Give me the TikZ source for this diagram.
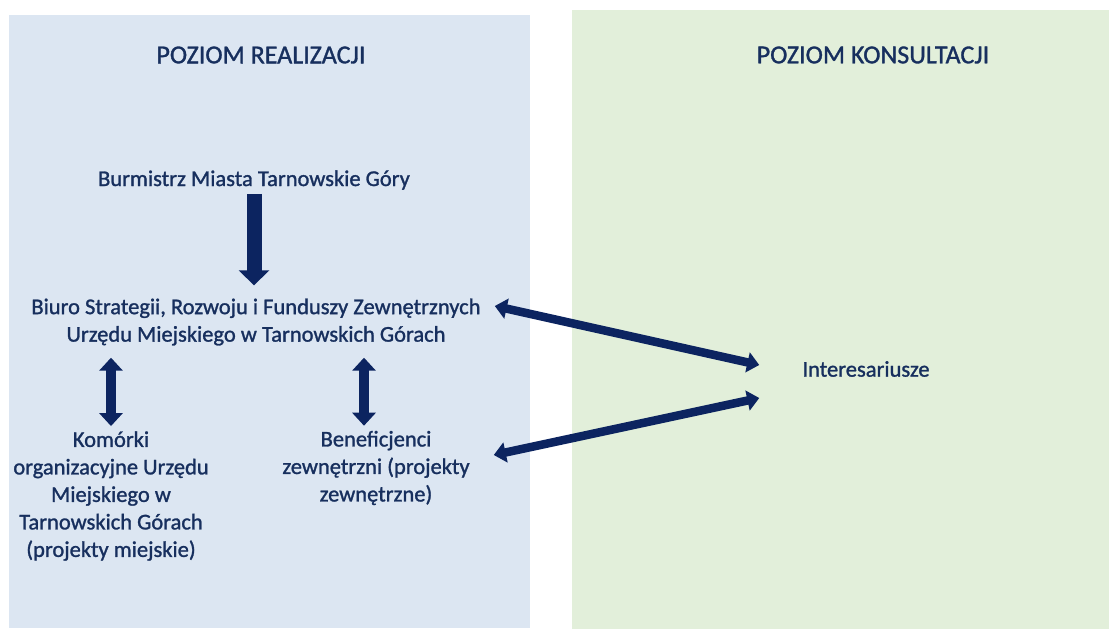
\documentclass[tikz,border=0pt]{standalone}
\usepackage{fontspec}
\setmainfont{Carlito}
\newfontface\heavyfont{Carlito}[FakeBold=1.2]
\usetikzlibrary{arrows.meta,calc}
\definecolor{panelblue}{HTML}{DCE6F2}
\definecolor{panelgreen}{HTML}{E2EFDA}
\definecolor{navy}{HTML}{172F5E}
\definecolor{arrowc}{HTML}{0C2460}
\begin{document}
\begin{tikzpicture}[x=1pt,y=-1pt,
  title/.style={font=\heavyfont\fontsize{26}{31}\selectfont, text=navy, inner sep=0pt},
  lbl/.style={font=\heavyfont\fontsize{22.5}{27.5}\selectfont, text=navy, align=center, inner sep=0pt},
  bigarrow/.style={draw=arrowc, line width=15pt, -{Triangle[width=30pt,length=15pt]}},
  vdbl/.style={draw=arrowc, line width=10pt, {Triangle[width=23pt,length=13pt]}-{Triangle[width=23pt,length=13pt]}},
  ddbl/.style={draw=arrowc, line width=8.5pt, {Triangle[width=20pt,length=12pt]}-{Triangle[width=20pt,length=12pt]}},
  ]
\useasboundingbox (0,0) rectangle (1109,629);
\fill[white] (0,0) rectangle (1109,629);
\fill[panelblue] (9,15) rectangle (530,628);
\fill[panelgreen] (572,10) rectangle (1109,629);

\node[title] (t1) at (261,55) {POZIOM REALIZACJI};
\node[title] (t2) at (873,55) {POZIOM KONSULTACJI};

\node[lbl] (burm) at (254,180) {Burmistrz Miasta Tarnowskie Góry};
\node[lbl] (biuro) at (256,322) {Biuro Strategii, Rozwoju i Funduszy Zewnętrznych\\Urzędu Miejskiego w Tarnowskich Górach};
\node[lbl] (kom) at (111,496) {Komórki\\organizacyjne Urzędu\\Miejskiego w\\Tarnowskich Górach\\(projekty miejskie)};
\node[lbl] (ben) at (376,468) {Beneficjenci\\zewnętrzni (projekty\\zewnętrzne)};
\node[lbl] (inter) at (866,369) {Interesariusze};

\coordinate (bA) at ($(burm.south)+(0,4)$);
\coordinate (bB) at ($(biuro.north -| burm)+(0,-13)$);
\draw[bigarrow] (bA) -- (bB);

\coordinate (k1) at ($(biuro.south -| kom)+(0,12)$);
\coordinate (k2) at ($(kom.north)+(0,-5)$);
\draw[vdbl] (k1) -- (k2);

\coordinate (n1) at ($(biuro.south -| ben)+(-12,12)$);
\coordinate (n2) at ($(ben.north)+(-12,-5)$);
\draw[vdbl] (n1) -- (n2);

\coordinate (d1) at ($(biuro.east)+(14,-16)$);
\coordinate (d2) at ($(inter.west)+(-43,-4)$);
\draw[ddbl] (d1) -- (d2);

\coordinate (e1) at ($(ben.east)+(24,-13)$);
\coordinate (e2) at ($(inter.west)+(-43,29)$);
\draw[ddbl] (e1) -- (e2);
\end{tikzpicture}
\end{document}
